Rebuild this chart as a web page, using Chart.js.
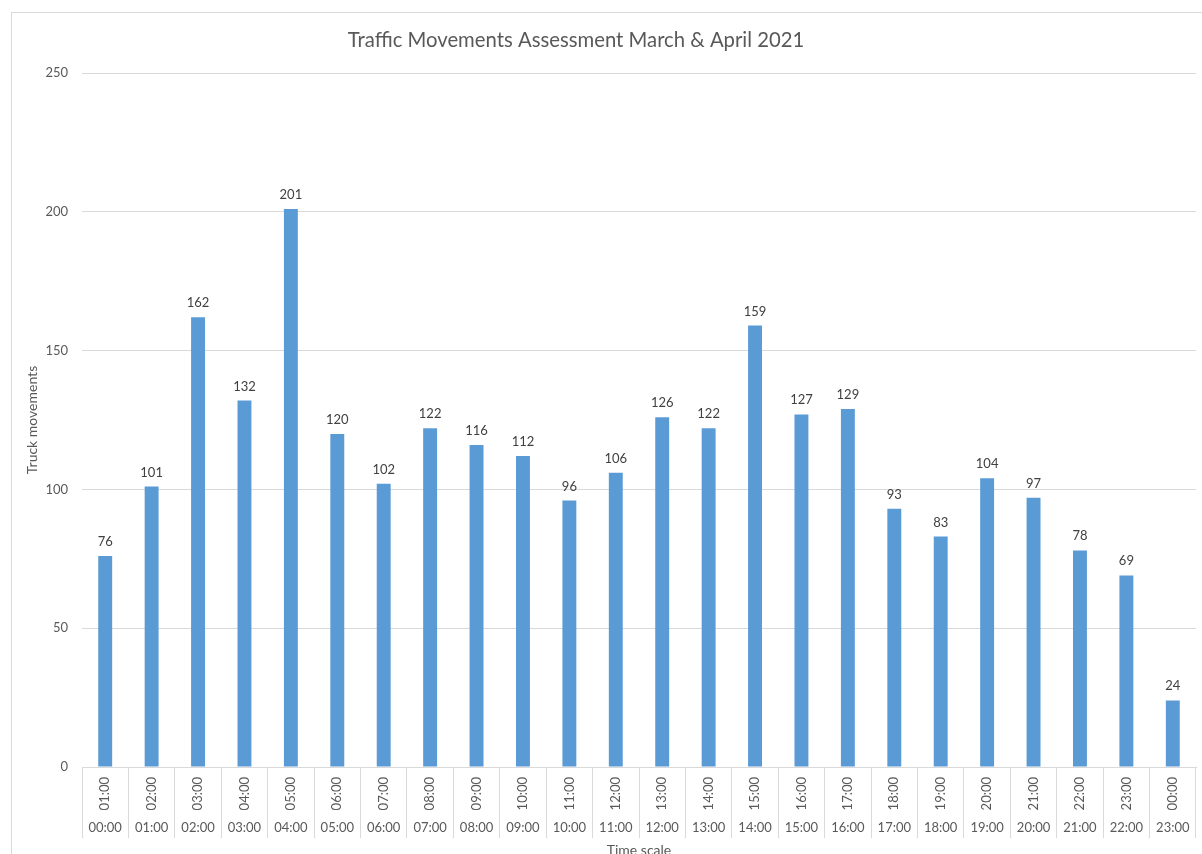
<!DOCTYPE html>
<html>

<head>
    <title>Traffic Movements Assessment</title>
    <script src="https://cdn.jsdelivr.net/npm/chart.js@4.4.1/dist/chart.umd.min.js"></script>
    <style>
        body {
            margin: 0;
            overflow: hidden;
            background: #fff;
            font-family: Lato, sans-serif;
        }

        #wrap {
            position: relative;
            width: 1202px;
            height: 870px;
        }

        #frame {
            position: absolute;
            left: 11px;
            top: 12px;
            width: 1300px;
            height: 1000px;
            border: 1px solid #d9d9d9;
        }

        #chart {
            position: absolute;
            left: 0;
            top: 0;
        }
    </style>
</head>

<body>
    <div id="wrap">
        <div id="frame"></div>
        <canvas id="chart" width="1202" height="870"></canvas>
    </div>
    <script>
        // Data
        var hourEnd = ["01:00", "02:00", "03:00", "04:00", "05:00", "06:00", "07:00", "08:00",
            "09:00", "10:00", "11:00", "12:00", "13:00", "14:00", "15:00", "16:00",
            "17:00", "18:00", "19:00", "20:00", "21:00", "22:00", "23:00", "00:00"];
        var hourStart = ["00:00", "01:00", "02:00", "03:00", "04:00", "05:00", "06:00", "07:00",
            "08:00", "09:00", "10:00", "11:00", "12:00", "13:00", "14:00", "15:00",
            "16:00", "17:00", "18:00", "19:00", "20:00", "21:00", "22:00", "23:00"];
        var truckMovements = [76, 101, 162, 132, 201, 120, 102, 122, 116, 112, 96, 106,
            126, 122, 159, 127, 129, 93, 83, 104, 97, 78, 69, 24];
        var yTicks = [0, 50, 100, 150, 200, 250];

        var chartTitle = "Traffic Movements Assessment March & April 2021";
        var gridColor = "#d9d9d9";
        var textColor = "#595959";

        // Title drawn by hand so it can sit off-centre like the original
        var titlePlugin = {
            id: "offTitle",
            afterDraw: function(chart) {
                var ctx = chart.ctx;
                ctx.save();
                ctx.font = "20.3px Lato";
                ctx.fillStyle = textColor;
                ctx.textAlign = "center";
                ctx.textBaseline = "middle";
                ctx.fillText(chartTitle, 576, 40);
                ctx.restore();
            }
        };

        // Value labels above each bar
        var valueLabels = {
            id: "valueLabels",
            afterDatasetsDraw: function(chart) {
                var ctx = chart.ctx;
                var meta = chart.getDatasetMeta(0);
                ctx.save();
                ctx.font = "13px Lato";
                ctx.fillStyle = "#404040";
                ctx.textAlign = "center";
                ctx.textBaseline = "alphabetic";
                meta.data.forEach(function(bar, i) {
                    ctx.fillText(chart.data.datasets[0].data[i], bar.x, bar.y - 10);
                });
                ctx.restore();
            }
        };

        var ctx = document.getElementById("chart").getContext("2d");
        var trafficChart = new Chart(ctx, {
            type: "bar",
            data: {
                labels: hourEnd,
                datasets: [{
                    label: "Truck movements",
                    data: truckMovements,
                    backgroundColor: "#5b9bd5",
                    borderWidth: 0,
                    categoryPercentage: 1,
                    barPercentage: 0.3
                }]
            },
            options: {
                responsive: false,
                animation: false,
                layout: {
                    padding: { top: 73, left: 14, right: 6, bottom: 11 }
                },
                plugins: {
                    legend: { display: false },
                    tooltip: { enabled: false }
                },
                scales: {
                    x: {
                        position: "bottom",
                        weight: 0,
                        grid: {
                            offset: true,
                            drawOnChartArea: false,
                            tickLength: 50,
                            color: gridColor
                        },
                        border: { color: gridColor },
                        ticks: {
                            autoSkip: false,
                            minRotation: 90,
                            maxRotation: 90,
                            padding: -40,
                            color: textColor,
                            font: { family: "Lato", size: 13 }
                        },
                        afterFit: function(scale) { scale.height = 50; }
                    },
                    x2: {
                        type: "category",
                        labels: hourStart,
                        position: "bottom",
                        weight: 1,
                        offset: true,
                        grid: {
                            offset: true,
                            drawOnChartArea: false,
                            tickLength: 21,
                            color: gridColor
                        },
                        border: { display: false },
                        ticks: {
                            autoSkip: false,
                            maxRotation: 0,
                            padding: -18,
                            color: textColor,
                            font: { family: "Lato", size: 13 }
                        },
                        title: {
                            display: true,
                            text: "Time scale",
                            color: textColor,
                            font: { family: "Lato", size: 14 },
                            padding: 0
                        },
                        afterFit: function(scale) { scale.height = 42; }
                    },
                    y: {
                        min: yTicks[0],
                        max: yTicks[yTicks.length - 1],
                        grid: {
                            color: gridColor,
                            drawTicks: false
                        },
                        border: { display: false },
                        ticks: {
                            stepSize: yTicks[1] - yTicks[0],
                            padding: 14,
                            color: textColor,
                            font: { family: "Lato", size: 13 }
                        },
                        title: {
                            display: true,
                            text: "Truck movements",
                            color: textColor,
                            font: { family: "Lato", size: 14 },
                            padding: { top: 10, bottom: 0 }
                        },
                        afterFit: function(scale) { scale.width = 68; }
                    }
                }
            },
            plugins: [valueLabels, titlePlugin]
        });
    </script>
</body>

</html>
